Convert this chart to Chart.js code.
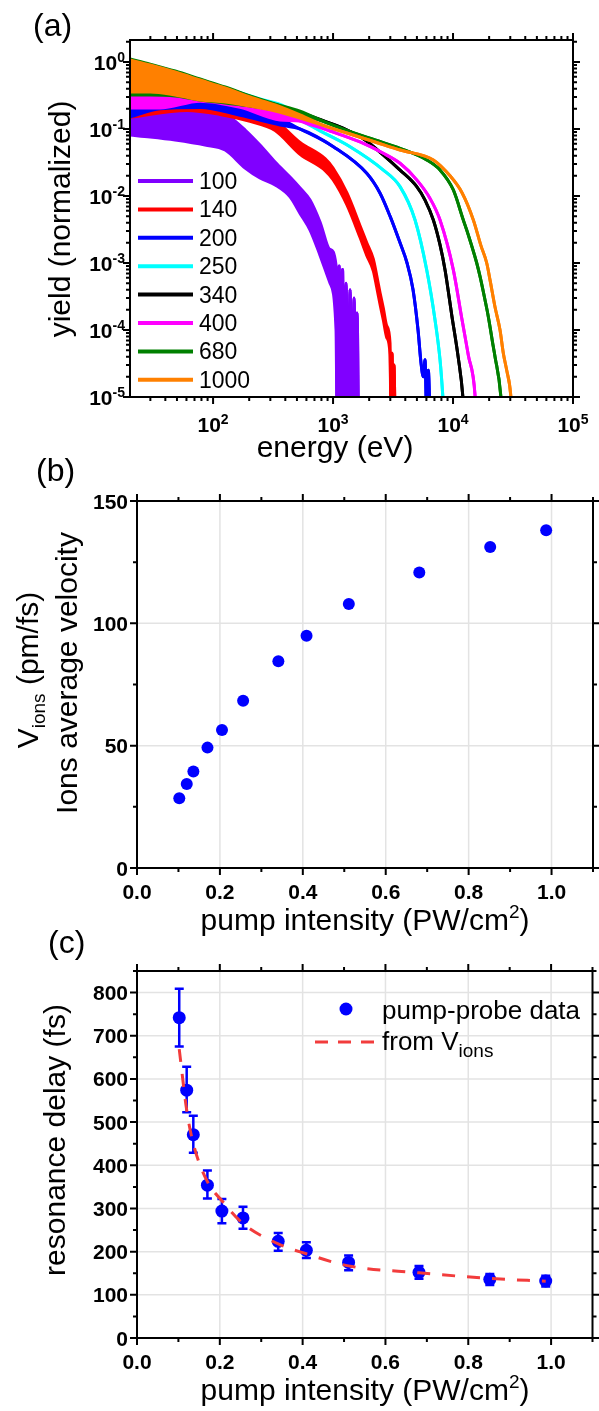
<!DOCTYPE html>
<html>
<head>
<meta charset="utf-8">
<title>ion spectra, ion velocity and resonance delay</title>
<script src="https://cdn.jsdelivr.net/npm/chart.js@4.4.1/dist/chart.umd.min.js"></script>
<style>
  html, body { margin: 0; padding: 0; background: #ffffff; }
  #fig { position: relative; width: 599px; height: 1411px; overflow: hidden; }
  #fig canvas { position: absolute; left: 0; }
</style>
</head>
<body>
<div id="fig">
  <canvas id="chartA" width="599" height="470" style="top:0px"></canvas>
  <canvas id="chartB" width="599" height="500" style="top:440px"></canvas>
  <canvas id="chartC" width="599" height="511" style="top:900px"></canvas>
</div>
<script>
// (a) ion spectra: energy (eV), upper and lower edge of each noisy trace (normalized yield)
const e100  = [20.3, 29.9, 48.3, 85.8, 126, 185, 246, 329, 438, 531, 643, 779, 944, 1059, 1080, 1124, 1155, 1200, 1235, 1283, 1334, 1386, 1440, 1496, 1555, 1586, 1626];
const hi100 = [0.253, 0.26, 0.26, 0.228, 0.17, 0.0966, 0.0577, 0.0322, 0.0192, 0.0132, 0.0087, 0.0041, 0.0016, 0.00093, 5e-6, 9e-4, 5e-6, 8e-4, 5e-6, 5e-4, 5e-6, 4e-4, 5e-6, 3e-4, 5e-6, 1.8e-4, 5e-6];
const lo100 = [0.0813, 0.076, 0.0685, 0.0577, 0.0486, 0.0262, 0.0186, 0.0146, 0.0097, 0.0055, 0.0031, 0.0013, 0.0005, 0.0001, 5e-6, 9e-4, 5e-6, 8e-4, 5e-6, 5e-4, 5e-6, 4e-4, 5e-6, 3e-4, 5e-6, 1.8e-4, 5e-6];

const e140  = [20.3, 60.7, 114, 203, 329, 531, 858, 1000, 1308, 1679, 1909, 2167, 2313, 2465, 2626, 2803, 2985, 3043, 3102, 3162, 3220, 3286];
const hi140 = [0.25, 0.287, 0.25, 0.19, 0.134, 0.063, 0.036, 0.026, 0.011, 0.0036, 0.002, 0.00114, 0.00065, 0.00036, 0.00021, 0.000115, 6.4e-5, 5e-6, 4.5e-5, 5e-6, 3e-5, 5e-6];
const lo140 = [0.15, 0.189, 0.165, 0.13, 0.095, 0.042, 0.024, 0.0175, 0.0073, 0.0024, 0.0013, 0.00076, 0.00043, 0.00024, 0.00014, 7.7e-5, 4.3e-5, 5e-6, 4.5e-5, 5e-6, 3e-5, 5e-6];

const e200  = [20.3, 36.2, 77.9, 168, 362, 531, 1006, 1909, 2465, 2985, 3617, 4137, 4642, 5109, 5412, 5656, 5843, 6037, 6226, 6432];
const hi200 = [0.271, 0.253, 0.27, 0.21, 0.14, 0.1, 0.0544, 0.0218, 0.011, 0.005, 0.002, 0.001, 0.0004, 0.0001, 3.2e-5, 2e-5, 3.6e-5, 5e-6, 2.5e-5, 5e-6];
const lo200 = [0.151, 0.2, 0.21, 0.16, 0.115, 0.1, 0.0544, 0.0218, 0.011, 0.005, 0.002, 0.001, 0.0004, 0.0001, 3.2e-5, 2e-5, 3.6e-5, 5e-6, 2.5e-5, 5e-6];

const e250  = [20.3, 48.3, 126, 246, 398, 731, 1386, 2626, 3617, 4824, 6037, 7079, 7793, 8208, 8414];
const hi250 = [1.071, 0.716, 0.409, 0.28, 0.2167, 0.1, 0.0544, 0.0244, 0.0138, 0.00438, 0.000786, 0.000141, 3.57e-5, 1.07e-5, 5e-6];
const lo250 = [0.382, 0.345, 0.271, 0.206, 0.173, 0.1, 0.0544, 0.0244, 0.0138, 0.00438, 0.000786, 0.000141, 3.57e-5, 1.07e-5, 5e-6];

const e340  = [20.3, 48.3, 126, 329, 531, 858, 1259, 1848, 2626, 3617, 4984, 5843, 6853, 7793, 8579, 9754, 11070, 12043, 12350];
const hi340 = [1.071, 0.713, 0.409, 0.232, 0.179, 0.13, 0.1, 0.0685, 0.0409, 0.0244, 0.0138, 0.0087, 0.00438, 0.00186, 0.000786, 0.000168, 3.8e-5, 1.07e-5, 5e-6];
const lo340 = [0.382, 0.345, 0.271, 0.206, 0.1675, 0.13, 0.1, 0.0685, 0.0409, 0.0244, 0.0138, 0.0087, 0.00438, 0.00186, 0.000786, 0.000168, 3.8e-5, 1.07e-5, 5e-6];

const e400  = [20.3, 36.2, 77.9, 168, 362, 531, 944, 1679, 2626, 3617, 4984, 6432, 7793, 10058, 11815, 13413, 15252, 15550];
const hi400 = [0.357, 0.345, 0.33, 0.25, 0.173, 0.1316, 0.0934, 0.064, 0.0434, 0.0308, 0.0174, 0.0092, 0.00438, 0.00079, 0.000151, 4.2e-5, 1.07e-5, 5e-6];
const lo400 = [0.206, 0.206, 0.26, 0.21, 0.136, 0.1316, 0.0934, 0.064, 0.0434, 0.0308, 0.0174, 0.0092, 0.00438, 0.00079, 0.000151, 4.2e-5, 1.07e-5, 5e-6];

const e680  = [20.3, 29.9, 48.3, 77.9, 126, 203, 329, 531, 858, 1386, 2239, 3617, 6037, 7793, 10058, 12183, 13006, 15759, 16788, 18478, 19686, 21668, 22387, 24978, 25600];
const hi680 = [1.11, 0.93, 0.734, 0.557, 0.423, 0.311, 0.236, 0.185, 0.127, 0.0912, 0.0685, 0.0514, 0.0345, 0.0244, 0.0123, 0.00438, 0.00311, 0.001, 0.00063, 0.00028, 0.000158, 5.6e-5, 4e-5, 1.07e-5, 5e-6];
const lo680 = [0.322, 0.322, 0.311, 0.271, 0.244, 0.22, 0.192, 0.165, 0.127, 0.0912, 0.0685, 0.0514, 0.0345, 0.0244, 0.0123, 0.00438, 0.00311, 0.001, 0.00063, 0.00028, 0.000158, 5.6e-5, 4e-5, 1.07e-5, 5e-6];

const e1000  = [20.3, 29.9, 48.3, 77.9, 126, 203, 329, 531, 858, 1386, 2239, 3617, 6853, 9441, 11885, 14766, 17113, 19090, 20337, 22387, 24645, 26259, 28027, 30265, 31000];
const hi1000 = [1.07, 0.902, 0.709, 0.539, 0.409, 0.30, 0.228, 0.162, 0.111, 0.0842, 0.064, 0.0486, 0.0345, 0.020, 0.0112, 0.0044, 0.0018, 0.001, 0.00056, 0.00022, 0.0001, 4.5e-5, 2.5e-5, 1.07e-5, 5e-6];
const lo1000 = [0.357, 0.357, 0.322, 0.271, 0.253, 0.22, 0.186, 0.146, 0.111, 0.0842, 0.064, 0.0486, 0.0345, 0.020, 0.0112, 0.0044, 0.0018, 0.001, 0.00056, 0.00022, 0.0001, 4.5e-5, 2.5e-5, 1.07e-5, 5e-6];

const pumpLabels = ['100', '140', '200', '250', '340', '400', '680', '1000'];
const pumpColors = ['#8000ff', '#ff0000', '#0000ff', '#00ffff', '#000000', '#ff00ff', '#008000', '#ff8000'];

// (b) and (c): pump intensity (PW/cm2)
const intensity  = [0.102, 0.12, 0.136, 0.17, 0.205, 0.256, 0.341, 0.409, 0.511, 0.681, 0.852, 0.987];
const velocity   = [28.5, 34.3, 39.4, 49.2, 56.4, 68.4, 84.5, 94.9, 107.9, 120.8, 131.2, 138.0];
const delay      = [742, 574, 471, 354, 294, 278, 224, 203, 175, 152, 136, 132];
const delayErrHi = [809, 628, 515, 388, 322, 304, 243, 222, 191, 167, 148, 144];
const delayErrLo = [675, 523, 429, 323, 266, 253, 202, 185, 157, 137, 123, 119];
const delayFromV = [669, 528, 450, 362, 318, 265, 218, 195, 167, 151, 138, 131.5];

// tick values
const energyTicks    = [1e2, 1e3, 1e4, 1e5];
const yieldTicks     = [1e-5, 1e-4, 1e-3, 1e-2, 1e-1, 1];
const intensityTicks = [0, 0.2, 0.4, 0.6, 0.8, 1.0];
const velocityTicks  = [0, 50, 100, 150];
const delayTicks     = [0, 100, 200, 300, 400, 500, 600, 700, 800];

const FONT = '"Liberation Sans", Arial, Helvetica, sans-serif';

function logMinor(from, to) {
  const out = [];
  for (let d = from; d < to; d *= 10) for (let k = 2; k <= 9; k++) out.push(d * k);
  return out;
}
function halfSteps(ticks) {
  const step = ticks[1] - ticks[0];
  return ticks.map(t => t + step / 2);
}

// text made of pieces (for super/subscripts)
function rich(ctx, parts, x, y, align) {
  let total = 0;
  parts.forEach(p => {
    ctx.font = (p.b ? 'bold ' : '') + p.s + 'px ' + FONT;
    p.w = ctx.measureText(p.t).width;
    total += p.w;
  });
  let cx = align === 'center' ? x - total / 2 : (align === 'right' ? x - total : x);
  ctx.textAlign = 'left';
  ctx.textBaseline = 'alphabetic';
  parts.forEach(p => {
    ctx.font = (p.b ? 'bold ' : '') + p.s + 'px ' + FONT;
    ctx.fillText(p.t, cx, y + (p.dy || 0));
    cx += p.w;
  });
}
function rotated(ctx, parts, x, y) {
  ctx.save();
  ctx.translate(x, y);
  ctx.rotate(-Math.PI / 2);
  rich(ctx, parts, 0, 0, 'center');
  ctx.restore();
}

const powLabel = v => [{ t: '10', s: 21, b: true }, { t: String(Math.round(Math.log10(v))), s: 14, b: true, dy: -8 }];
const decLabel = v => [{ t: v.toFixed(1), s: 21, b: true }];
const intLabel = v => [{ t: String(v), s: 21, b: true }];

// box, outward ticks on all four sides, grid, tick labels
function framePlugin(cfg) {
  return {
    id: 'frame',
    beforeDatasetsDraw(chart) {
      const { ctx, chartArea: a, scales } = chart;
      if (cfg.grid) {
        ctx.save();
        ctx.strokeStyle = '#e3e3e3';
        ctx.lineWidth = 1.5;
        ctx.beginPath();
        cfg.xMajor.forEach(v => {
          const p = scales.x.getPixelForValue(v);
          if (p > a.left + 2 && p < a.right - 2) { ctx.moveTo(p, a.top); ctx.lineTo(p, a.bottom); }
        });
        cfg.yMajor.forEach(v => {
          const p = scales.y.getPixelForValue(v);
          if (p > a.top + 2 && p < a.bottom - 2) { ctx.moveTo(a.left, p); ctx.lineTo(a.right, p); }
        });
        ctx.stroke();
        ctx.restore();
      }
      if (cfg.under) cfg.under(chart);
    },
    afterDraw(chart) {
      const { ctx, chartArea: a, scales } = chart;
      ctx.save();
      ctx.strokeStyle = '#000';
      ctx.fillStyle = '#000';
      ctx.lineWidth = 2;
      ctx.beginPath();
      const tickX = (v, len) => {
        const p = scales.x.getPixelForValue(v);
        if (p < a.left - 0.5 || p > a.right + 0.5) return;
        ctx.moveTo(p, a.bottom); ctx.lineTo(p, a.bottom + len);
        ctx.moveTo(p, a.top); ctx.lineTo(p, a.top - len);
      };
      const tickY = (v, len) => {
        const p = scales.y.getPixelForValue(v);
        if (p < a.top - 0.5 || p > a.bottom + 0.5) return;
        ctx.moveTo(a.left, p); ctx.lineTo(a.left - len, p);
        ctx.moveTo(a.right, p); ctx.lineTo(a.right + len, p);
      };
      cfg.xMajor.forEach(v => tickX(v, 7));
      cfg.xMinor.forEach(v => tickX(v, 4));
      cfg.yMajor.forEach(v => tickY(v, 7));
      cfg.yMinor.forEach(v => tickY(v, 4));
      ctx.stroke();
      ctx.strokeRect(a.left, a.top, a.right - a.left, a.bottom - a.top);

      cfg.xMajor.forEach(v => {
        rich(ctx, cfg.xLabel(v), scales.x.getPixelForValue(v), a.bottom + cfg.xLabelDy, 'center');
      });
      cfg.yMajor.forEach(v => {
        rich(ctx, cfg.yLabel(v), a.left - cfg.yLabelDx, scales.y.getPixelForValue(v) + 7.5, 'right');
      });
      ctx.restore();
      if (cfg.over) cfg.over(chart);
    }
  };
}

// ---------- (a) ----------
const spectra = [
  [e100, hi100, lo100], [e140, hi140, lo140], [e200, hi200, lo200], [e250, hi250, lo250],
  [e340, hi340, lo340], [e400, hi400, lo400], [e680, hi680, lo680], [e1000, hi1000, lo1000]
];
// later pump intensities sit on top, like the original plot
const drawOrder = [8, 7, 6, 5, 4, 3, 2, 1];

const datasetsA = [];
spectra.forEach(([en, hi, lo], i) => {
  const base = {
    borderColor: pumpColors[i],
    backgroundColor: pumpColors[i],
    borderWidth: 3,
    pointRadius: 0,
    showLine: true,
    cubicInterpolationMode: 'monotone',
    borderJoinStyle: 'round',
    clip: 0,
    order: drawOrder[i]
  };
  datasetsA.push({ ...base, label: pumpLabels[i], fill: false, data: en.map((x, k) => ({ x, y: hi[k] })) });
  datasetsA.push({ ...base, label: pumpLabels[i] + ' (low edge)', fill: '-1', data: en.map((x, k) => ({ x, y: lo[k] })) });
});

new Chart(document.getElementById('chartA'), {
  type: 'scatter',
  data: { datasets: datasetsA },
  options: {
    responsive: false,
    animation: false,
    layout: { padding: { left: 130, right: 26, top: 40, bottom: 73 } },
    scales: {
      x: { type: 'logarithmic', min: 20.3, max: 1e5, display: false },
      y: { type: 'logarithmic', min: 1e-5, max: 2.13, display: false }
    },
    plugins: { legend: { display: false }, tooltip: { enabled: false } }
  },
  plugins: [framePlugin({
    xMajor: energyTicks, xMinor: logMinor(10, 1e5),
    yMajor: yieldTicks, yMinor: logMinor(1e-5, 10),
    xLabel: powLabel, yLabel: powLabel, xLabelDy: 35, yLabelDx: 5,
    over(chart) {
      const ctx = chart.ctx;
      ctx.save();
      ctx.fillStyle = '#000';
      rich(ctx, [{ t: '(a)', s: 32 }], 33, 36, 'left');
      rich(ctx, [{ t: 'energy (eV)', s: 30 }], 335, 457, 'center');
      rotated(ctx, [{ t: 'yield (normalized)', s: 30 }], 70, 219);
      pumpLabels.forEach((lab, i) => {
        const y = 181 + i * 28.4;
        ctx.strokeStyle = pumpColors[i];
        ctx.lineWidth = 4;
        ctx.beginPath(); ctx.moveTo(138, y); ctx.lineTo(193, y); ctx.stroke();
        ctx.fillStyle = '#000';
        rich(ctx, [{ t: lab, s: 23 }], 199, y + 8, 'left');
      });
      ctx.restore();
    }
  })]
});

// ---------- (b) ----------
new Chart(document.getElementById('chartB'), {
  type: 'scatter',
  data: {
    datasets: [{
      label: 'Ions average velocity',
      data: intensity.map((x, i) => ({ x, y: velocity[i] })),
      pointRadius: 6,
      pointBackgroundColor: '#0000ff',
      pointBorderWidth: 0
    }]
  },
  options: {
    responsive: false,
    animation: false,
    layout: { padding: { left: 137, right: 5, top: 61, bottom: 72 } },
    scales: {
      x: { type: 'linear', min: 0, max: 1.1, display: false },
      y: { type: 'linear', min: 0, max: 150, display: false }
    },
    plugins: { legend: { display: false }, tooltip: { enabled: false } }
  },
  plugins: [framePlugin({
    grid: true,
    xMajor: intensityTicks, xMinor: halfSteps(intensityTicks),
    yMajor: velocityTicks, yMinor: halfSteps(velocityTicks),
    xLabel: decLabel, yLabel: intLabel, xLabelDy: 31, yLabelDx: 9,
    over(chart) {
      const ctx = chart.ctx;
      ctx.save();
      ctx.fillStyle = '#000';
      rich(ctx, [{ t: '(b)', s: 32 }], 36, 41, 'left');
      rich(ctx, [{ t: 'pump intensity (PW/cm', s: 30 }, { t: '2', s: 19, dy: -12 }, { t: ')', s: 30 }], 365, 490, 'center');
      rotated(ctx, [{ t: 'V', s: 30 }, { t: 'ions', s: 19, dy: 7 }, { t: ' (pm/fs)', s: 30 }], 38, 230);
      rotated(ctx, [{ t: 'Ions average velocity', s: 30 }], 77, 233);
      ctx.restore();
    }
  })]
});

// ---------- (c) ----------
new Chart(document.getElementById('chartC'), {
  type: 'scatter',
  data: {
    datasets: [
      {
        label: 'from Vions',
        data: intensity.map((x, i) => ({ x, y: delayFromV[i] })),
        showLine: true,
        borderColor: '#f23c3c',
        borderWidth: 3,
        borderDash: [13, 12],
        cubicInterpolationMode: 'monotone',
        pointRadius: 0
      },
      {
        label: 'pump-probe data',
        data: intensity.map((x, i) => ({ x, y: delay[i] })),
        pointRadius: 6.5,
        pointBackgroundColor: '#0000ff',
        pointBorderWidth: 0
      }
    ]
  },
  options: {
    responsive: false,
    animation: false,
    layout: { padding: { left: 137, right: 5, top: 71, bottom: 73 } },
    scales: {
      x: { type: 'linear', min: 0, max: 1.1, display: false },
      y: { type: 'linear', min: 0, max: 850, display: false }
    },
    plugins: { legend: { display: false }, tooltip: { enabled: false } }
  },
  plugins: [framePlugin({
    grid: true,
    xMajor: intensityTicks, xMinor: halfSteps(intensityTicks),
    yMajor: delayTicks, yMinor: halfSteps(delayTicks),
    xLabel: decLabel, yLabel: intLabel, xLabelDy: 31, yLabelDx: 9,
    under(chart) {
      const { ctx, scales: { x, y } } = chart;
      ctx.save();
      ctx.strokeStyle = '#0000ff';
      ctx.lineWidth = 2.5;
      intensity.forEach((v, i) => {
        const px = x.getPixelForValue(v);
        const t = y.getPixelForValue(delayErrHi[i]);
        const b = y.getPixelForValue(delayErrLo[i]);
        ctx.beginPath();
        ctx.moveTo(px, t); ctx.lineTo(px, b);
        ctx.moveTo(px - 4.5, t); ctx.lineTo(px + 4.5, t);
        ctx.moveTo(px - 4.5, b); ctx.lineTo(px + 4.5, b);
        ctx.stroke();
      });
      ctx.restore();
    },
    over(chart) {
      const ctx = chart.ctx;
      ctx.save();
      ctx.fillStyle = '#000';
      rich(ctx, [{ t: '(c)', s: 32 }], 48, 53, 'left');
      rich(ctx, [{ t: 'pump intensity (PW/cm', s: 30 }, { t: '2', s: 19, dy: -12 }, { t: ')', s: 30 }], 365, 500, 'center');
      rotated(ctx, [{ t: 'resonance delay (fs)', s: 30 }], 65, 240);
      // legend
      ctx.fillStyle = '#0000ff';
      ctx.beginPath(); ctx.arc(346, 109, 6.5, 0, Math.PI * 2); ctx.fill();
      ctx.strokeStyle = '#f23c3c';
      ctx.lineWidth = 3;
      ctx.setLineDash([13, 10]);
      ctx.beginPath(); ctx.moveTo(315, 142); ctx.lineTo(376, 142); ctx.stroke();
      ctx.setLineDash([]);
      ctx.fillStyle = '#000';
      rich(ctx, [{ t: 'pump-probe data', s: 26 }], 382, 119, 'left');
      rich(ctx, [{ t: 'from V', s: 26 }, { t: 'ions', s: 19, dy: 7 }], 382, 150, 'left');
      ctx.restore();
    }
  })]
});
</script>
</body>
</html>
